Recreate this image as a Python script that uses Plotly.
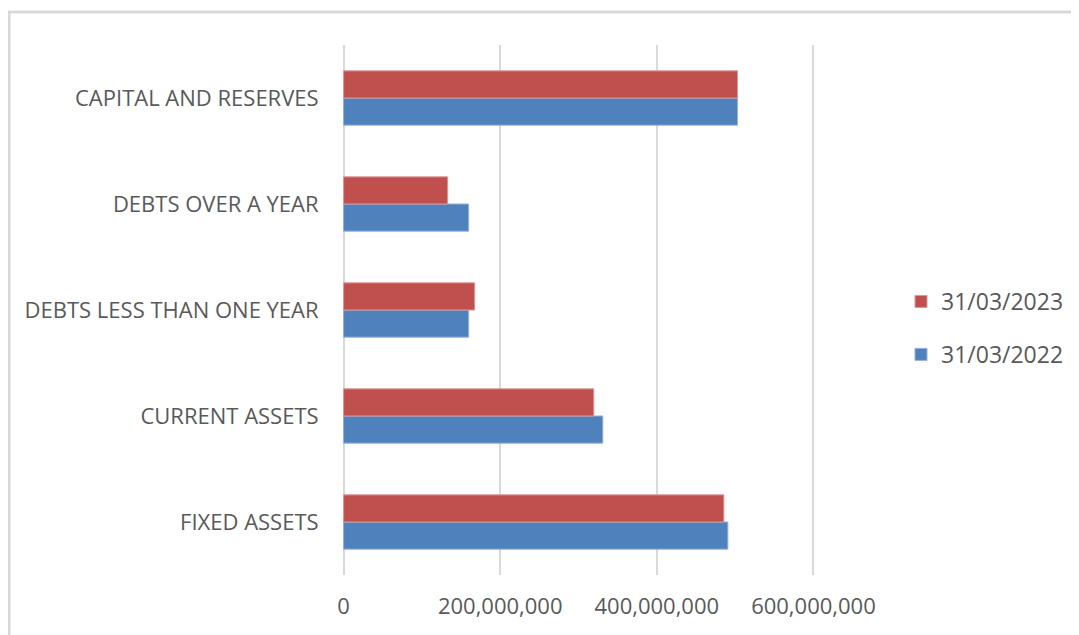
import plotly.graph_objects as go

categories = ["FIXED ASSETS", "CURRENT ASSETS", "DEBTS LESS THAN ONE YEAR",
              "DEBTS OVER A YEAR", "CAPITAL AND RESERVES"]
values_2022 = [490_700_000, 331_000_000, 159_700_000, 159_700_000, 503_000_000]
values_2023 = [485_600_000, 319_500_000, 167_400_000, 132_900_000, 503_000_000]
tick_vals = [0, 200_000_000, 400_000_000, 600_000_000]
tick_text = ["0", "200,000,000", "400,000,000", "600,000,000"]

FONT = "Open Sans, sans-serif"
GREY = "#595959"

# page body has an 8px margin, so the figure is sized to fit the window
FW, FH = 1071, 627
L, T, B = 334, 37, 60
W = 473
R = FW - L - W
H = FH - T - B

fig = go.Figure()
fig.add_trace(go.Bar(y=categories, x=values_2022, orientation="h", name="31/03/2022",
                     legendrank=2, legendgroup="g2022",
                     marker=dict(color="#4F81BD", line=dict(color="#8FB0DA", width=1))))
fig.add_trace(go.Bar(y=categories, x=values_2023, orientation="h", name="31/03/2023",
                     legendrank=1, legendgroup="g2023",
                     marker=dict(color="#C0504D", line=dict(color="#DB9795", width=1))))

fig.update_layout(
    width=FW, height=FH,
    margin=dict(l=L, r=R, t=T, b=B, autoexpand=False),
    paper_bgcolor="white", plot_bgcolor="white",
    barmode="group", bargap=0.488, bargroupgap=0,
    font=dict(family=FONT, color=GREY, size=20),
    showlegend=True,
    legend=dict(x=(893 - L) / W, y=(T + H - 320) / H, xanchor="left", yanchor="middle",
                traceorder="grouped", font=dict(size=23, color=GREY),
                itemwidth=30, tracegroupgap=20),
    xaxis=dict(range=[-2_000_000, 602_000_000], tickvals=tick_vals, ticktext=tick_text,
               showgrid=True, gridcolor="#d9d9d9", gridwidth=2, zeroline=False,
               showline=False, ticks="outside", ticklen=12, tickcolor="rgba(0,0,0,0)",
               tickfont=dict(size=22, color=GREY)),
    yaxis=dict(showgrid=False, zeroline=False, showline=False,
               ticks="outside", ticklen=18, tickcolor="rgba(0,0,0,0)",
               tickfont=dict(size=22, color=GREY)),
)

# outer chart border
fig.add_shape(type="rect", xref="paper", yref="paper",
              x0=(1 - L) / W, x1=1.7, y0=-0.3, y1=(T + H - 4) / H,
              line=dict(color="#d9d9d9", width=3), layer="below")

fig.write_html("out.html")
